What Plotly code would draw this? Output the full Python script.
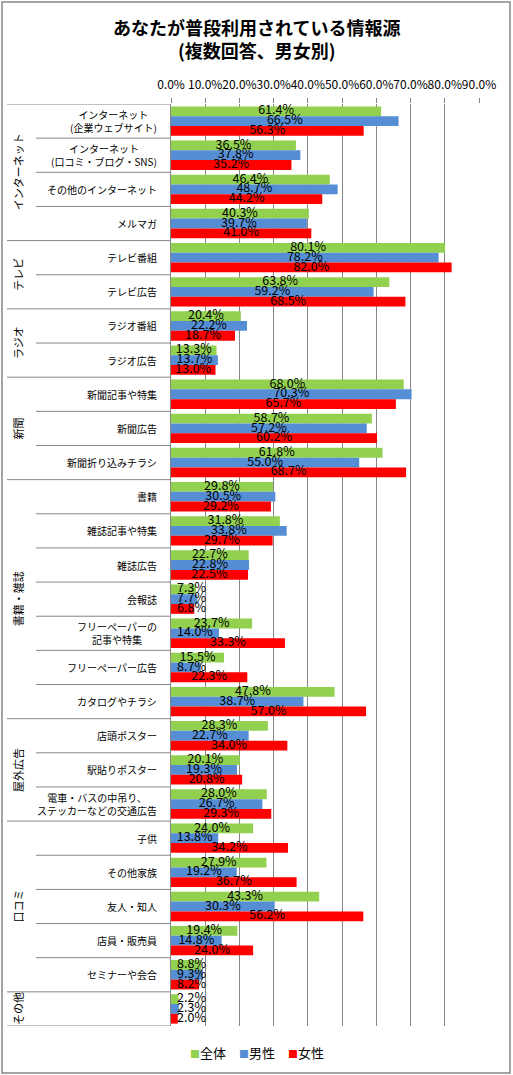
import plotly.graph_objects as go

# row labels (top to bottom); the last row of "その他" has no sub label
categories = [
    "インターネット<br>(企業ウェブサイト)",
    "インターネット<br>(口コミ・ブログ・SNS)",
    "その他のインターネット",
    "メルマガ",
    "テレビ番組",
    "テレビ広告",
    "ラジオ番組",
    "ラジオ広告",
    "新聞記事や特集",
    "新聞広告",
    "新聞折り込みチラシ",
    "書籍",
    "雑誌記事や特集",
    "雑誌広告",
    "会報誌",
    "フリーペーパーの<br>記事や特集",
    "フリーペーパー広告",
    "カタログやチラシ",
    "店頭ポスター",
    "駅貼りポスター",
    "電車・バスの中吊り、<br>ステッカーなどの交通広告",
    "子供",
    "その他家族",
    "友人・知人",
    "店員・販売員",
    "セミナーや会合",
    "",
]
groups = ["インターネット", "テレビ", "ラジオ", "新聞", "書籍・雑誌", "屋外広告", "口コミ", "その他"]
group_sizes = [4, 2, 2, 3, 7, 3, 5, 1]

total = [61.4, 36.5, 46.4, 40.3, 80.1, 63.8, 20.4, 13.3, 68.0, 58.7, 61.8,
         29.8, 31.8, 22.7, 7.3, 23.7, 15.5, 47.8, 28.3, 20.1, 28.0,
         24.0, 27.9, 43.3, 19.4, 8.8, 2.2]
male = [66.5, 37.8, 48.7, 39.7, 78.2, 59.2, 22.2, 13.7, 70.3, 57.2, 55.0,
        30.5, 33.8, 22.8, 7.7, 14.0, 8.7, 38.7, 22.7, 19.3, 26.7,
        13.8, 19.2, 30.3, 14.8, 9.3, 2.3]
female = [56.3, 35.2, 44.2, 41.0, 82.0, 68.5, 18.7, 13.0, 65.7, 60.2, 68.7,
          29.2, 29.7, 22.5, 6.8, 33.3, 22.3, 57.0, 34.0, 20.8, 29.3,
          34.2, 36.7, 56.2, 24.0, 8.2, 2.0]

series_names = ["全体", "男性", "女性"]
colors = ["#92D050", "#558ED5", "#FF0000"]
grid = "#868686"
FONT = "Noto Sans CJK JP"

rows = list(range(len(categories)))
fig = go.Figure()

for name, vals, col in zip(series_names, [total, male, female], colors):
    fig.add_trace(go.Bar(x=vals, y=rows, name=name, orientation="h",
                         marker=dict(color=col, line=dict(width=0)),
                         hoverinfo="x+name", showlegend=False))

# data labels: centred on the bar, but kept clear of the axis for short bars
for name, vals in zip(series_names, [total, male, female]):
    fig.add_trace(go.Scatter(x=[max(v / 2, 6.0) for v in vals], y=rows,
                             orientation="h", mode="text",
                             text=["%.1f%%" % v for v in vals],
                             textposition="middle center",
                             textfont=dict(size=12.5, color="black", family=FONT),
                             showlegend=False, hoverinfo="skip", cliponaxis=False))

annotations = []
shapes = []

# title (figure centre is 85.5px right of the plot's left edge)
annotations.append(dict(x=0, xref="paper", xshift=85.5, xanchor="center",
                        y=1, yref="paper", yshift=92, yanchor="top",
                        text="<b>あなたが普段利用されている情報源<br>(複数回答、男女別)</b>",
                        showarrow=False, align="center",
                        font=dict(size=18, color="black", family=FONT)))

for i, lab in enumerate(categories):
    if lab:
        annotations.append(dict(x=0, xref="paper", y=i, yref="y", text=lab,
                                xanchor="right", yanchor="middle", xshift=-12,
                                align="center", showarrow=False,
                                font=dict(size=10, color="black", family=FONT)))

start = 0
group_starts = []
for g, n in zip(groups, group_sizes):
    group_starts.append(start)
    annotations.append(dict(x=0, xref="paper", y=start + (n - 1) / 2, yref="y",
                            text=g, textangle=-90, xanchor="center", yanchor="middle",
                            xshift=-153, showarrow=False,
                            font=dict(size=11, color="black", family=FONT)))
    start += n
group_starts.append(start)

# legend drawn as one line of text with small coloured squares
legend_text = "　".join("<span style='color:%s;font-size:10px'>■</span>%s" % (c, n)
                       for n, c in zip(series_names, colors))
annotations.append(dict(x=0, xref="paper", xshift=86, xanchor="center",
                        y=0, yref="paper", yshift=-26, yanchor="middle",
                        text=legend_text, showarrow=False,
                        font=dict(size=13, color="black", family=FONT)))

# separator lines of the category axis
for b in range(len(categories) + 1):
    left = -164 if b in group_starts else -135
    shapes.append(dict(type="line", xref="paper", xsizemode="pixel", xanchor=0,
                       x0=left, x1=0, yref="y", y0=b - 0.5, y1=b - 0.5,
                       line=dict(color=grid, width=1)))

# outer chart border
shapes.append(dict(type="rect", xref="paper", xsizemode="pixel", xanchor=0,
                   x0=-169, x1=339, yref="paper", ysizemode="pixel", yanchor=1,
                   y0=-969, y1=102, line=dict(color=grid, width=1.5)))

fig.update_layout(
    width=513, height=1075,
    margin=dict(l=171, r=34, t=104, b=49),
    paper_bgcolor="white", plot_bgcolor="white",
    font=dict(family=FONT, color="black"),
    barmode="group", bargap=0.14, bargroupgap=0,
    scattermode="group", scattergap=0.14,
    showlegend=False,
    annotations=annotations, shapes=shapes,
)
fig.update_xaxes(range=[0, 90], dtick=10, side="top", tickformat=".1f", ticksuffix="%",
                 tickangle=0,
                 showgrid=True, gridcolor=grid, gridwidth=1, zeroline=False,
                 ticks="outside", ticklen=5, tickcolor=grid, tickwidth=1,
                 ticklabelstandoff=4, showline=False,
                 tickfont=dict(size=12, color="black", family=FONT))
fig.update_yaxes(range=[len(categories) - 0.5, -0.5], showticklabels=False,
                 showgrid=False, zeroline=False, showline=True, linecolor=grid,
                 linewidth=1, ticks="")

fig.write_html("out.html", config={"displayModeBar": False},
               post_script="document.body.style.margin='0';")
